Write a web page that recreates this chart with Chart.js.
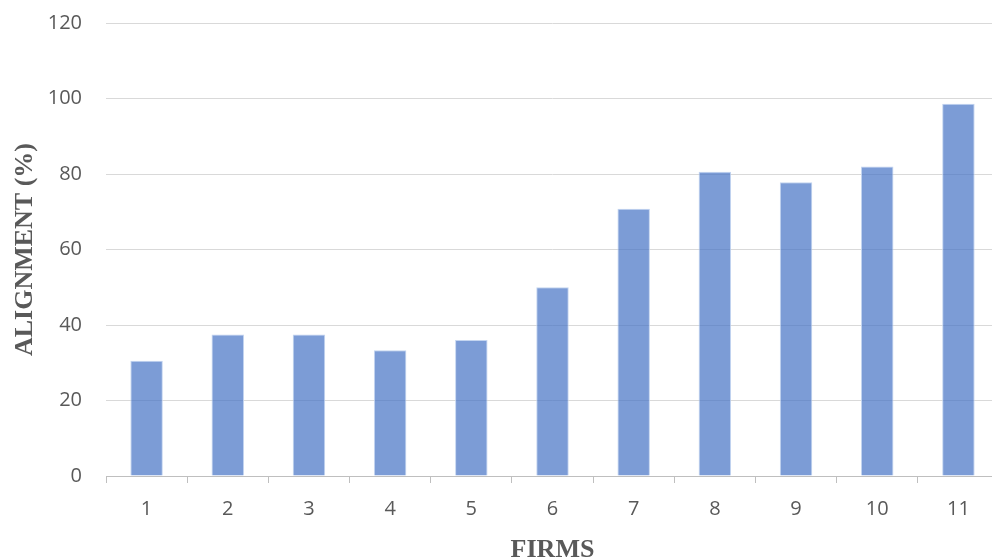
<!DOCTYPE html>
<html>
<head>
<meta charset="utf-8">
<script src="https://cdn.jsdelivr.net/npm/chart.js@4/dist/chart.umd.min.js"></script>
<style>
  html, body { margin: 0; padding: 0; background: #ffffff; overflow: hidden; }
  #wrap { width: 1000px; height: 566px; }
</style>
</head>
<body>
<div id="wrap"><canvas id="chart" width="1000" height="566"></canvas></div>
<script>
// Alignment score per firm
const firms = ['1', '2', '3', '4', '5', '6', '7', '8', '9', '10', '11'];
const alignment = [30.5, 37.5, 37.5, 33.3, 36.0, 50.0, 70.8, 80.6, 77.8, 82.0, 98.6];
const yTicks = [0, 20, 40, 60, 80, 100, 120];

const labelGrey = '#595959';
const H = 566;

new Chart(document.getElementById('chart'), {
  type: 'bar',
  data: {
    labels: firms,
    datasets: [{
      data: alignment,
      backgroundColor: 'rgba(68,114,196,0.7)',
      borderColor: 'rgba(190,208,238,0.9)',
      borderWidth: 1,
      categoryPercentage: 1.0,
      barPercentage: 0.4
    }]
  },
  options: {
    responsive: false,
    animation: false,
    devicePixelRatio: 1,
    layout: { padding: { left: 0, right: 1, top: 23, bottom: 0 } },
    plugins: { legend: { display: false }, tooltip: { enabled: false } },
    scales: {
      x: {
        grid: {
          offset: true,
          drawOnChartArea: false,
          drawTicks: true,
          tickLength: 7,
          color: '#bfbfbf',
          lineWidth: 1
        },
        border: { display: true, color: '#bfbfbf', width: 1 },
        ticks: {
          color: labelGrey,
          padding: 14,
          font: { family: '"Open Sans", sans-serif', size: 20 }
        },
        title: {
          display: true,
          text: 'FIRMS',
          color: labelGrey,
          font: { family: '"Liberation Serif", serif', size: 26, weight: 'bold' },
          padding: { top: 0, bottom: 0 }
        },
        afterFit(scale) { scale.height = H - 476; }
      },
      y: {
        min: 0,
        max: 120,
        afterBuildTicks(scale) { scale.ticks = yTicks.map(v => ({ value: v })); },
        // invisible tick marks keep the labels clear of the plot
        grid: { color: '#d9d9d9', lineWidth: 1, drawTicks: true, tickLength: 24, tickColor: 'rgba(0,0,0,0)' },
        border: { display: false },
        ticks: {
          color: labelGrey,
          padding: 0,
          font: { family: '"Open Sans", sans-serif', size: 20 }
        },
        title: {
          display: true,
          text: 'ALIGNMENT (%)',
          color: labelGrey,
          font: { family: '"Liberation Serif", serif', size: 26, weight: 'bold' },
          padding: { top: 10, bottom: 0 }
        },
        afterFit(scale) { scale.width = 106; }
      }
    }
  }
});
</script>
</body>
</html>
